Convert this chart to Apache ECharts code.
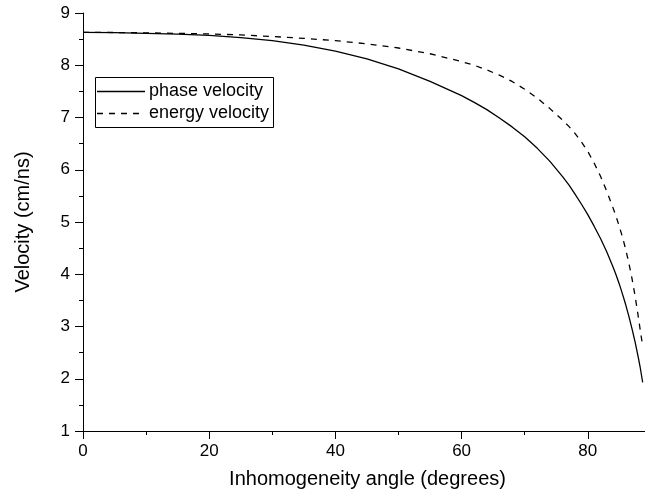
<!DOCTYPE html>
<html>
<head>
<meta charset="utf-8">
<style>html,body{margin:0;padding:0;background:#fff;overflow:hidden;width:645px;height:502px;}#c{width:717px;height:502px;}</style>
<script src="https://cdn.jsdelivr.net/npm/echarts@6/dist/echarts.min.js"></script>
</head>
<body>
<div id="c"></div>
<script>
var phaseAngles = [0, 5, 10, 15, 20, 25, 30, 35, 40, 45, 50, 55, 60, 62, 64, 66, 68, 70, 72, 74, 76, 77, 78, 79, 80, 81, 82, 83, 84, 84.5, 85, 85.5, 86, 86.5, 87, 87.5, 88, 88.3, 88.6, 88.7];
var phaseVelocity = [8.63, 8.625, 8.61, 8.595, 8.57, 8.53, 8.47, 8.385, 8.27, 8.12, 7.93, 7.69, 7.42, 7.29, 7.15, 6.99, 6.82, 6.63, 6.41, 6.16, 5.87, 5.71, 5.53, 5.34, 5.14, 4.92, 4.69, 4.43, 4.14, 3.98, 3.81, 3.62, 3.42, 3.20, 2.96, 2.70, 2.41, 2.22, 2.00, 1.93];
var energyAngles = [0, 5, 10, 15, 20, 25, 30, 35, 40, 45, 50, 55, 60, 62, 64, 66, 68, 70, 72, 74, 76, 77, 78, 79, 80, 81, 82, 83, 84, 84.5, 85, 85.5, 86, 86.5, 87, 87.5, 88, 88.3, 88.6, 88.7];
var energyVelocity = [8.63, 8.627, 8.62, 8.61, 8.60, 8.58, 8.55, 8.515, 8.47, 8.41, 8.33, 8.22, 8.07, 8.00, 7.91, 7.81, 7.69, 7.54, 7.37, 7.17, 6.95, 6.83, 6.69, 6.53, 6.35, 6.13, 5.88, 5.59, 5.27, 5.10, 4.91, 4.71, 4.48, 4.22, 3.92, 3.58, 3.19, 2.94, 2.70, 2.60];
var xTicks = [0, 20, 40, 60, 80];
var yTicks = [1, 2, 3, 4, 5, 6, 7, 8, 9];
var seriesNames = ['phase velocity', 'energy velocity'];

function pairs(xs, ys) { return xs.map(function (x, i) { return [x, ys[i]]; }); }

var chart = echarts.init(document.getElementById('c'), null, {renderer: 'canvas'});
var font = 'Liberation Sans, Arial, sans-serif';
chart.setOption({
  animation: false,
  backgroundColor: '#fff',
  grid: {left: 83, top: 13, bottom: 71, right: 0, containLabel: false},
  graphic: [
    {type: 'rect', left: 95, top: 77, shape: {width: 178, height: 50}, style: {fill: '#fff', stroke: '#000', lineWidth: 1}, z: 10},
    {type: 'line', shape: {x1: 97, y1: 91.5, x2: 145, y2: 91.5}, style: {stroke: '#000', lineWidth: 1.3}, z: 11},
    {type: 'line', shape: {x1: 97, y1: 113.5, x2: 145, y2: 113.5}, style: {stroke: '#000', lineWidth: 1.3, lineDash: [6, 6]}, z: 11},
    {type: 'text', x: 149, y: 91, style: {text: seriesNames[0], font: '18px ' + font, fill: '#000', textVerticalAlign: 'middle', verticalAlign: 'middle'}, z: 11},
    {type: 'text', x: 149, y: 113, style: {text: seriesNames[1], font: '18px ' + font, fill: '#000', textVerticalAlign: 'middle', verticalAlign: 'middle'}, z: 11}
  ],
  xAxis: {
    type: 'value', min: 0, max: 100, interval: 20,
    name: 'Inhomogeneity angle (degrees)', nameLocation: 'middle', nameGap: 38,
    nameTextStyle: {fontFamily: font, fontSize: 20, color: '#000', padding: [0, 62, 0, 0]},
    axisLine: {show: true, onZero: false, lineStyle: {color: '#000', width: 1}},
    axisTick: {show: true, inside: false, length: 8, lineStyle: {color: '#000'}},
    minorTick: {show: true, splitNumber: 2, length: 4, lineStyle: {color: '#000'}},
    axisLabel: {fontFamily: font, fontSize: 17, color: '#000', margin: 12,
      formatter: function (v) { return xTicks.indexOf(v) >= 0 ? String(v) : ''; }},
    splitLine: {show: false}
  },
  yAxis: {
    type: 'value', min: 1, max: 9, interval: 1,
    name: 'Velocity (cm/ns)', nameLocation: 'middle', nameGap: 50,
    nameTextStyle: {fontFamily: font, fontSize: 20, color: '#000'},
    axisLine: {show: true, onZero: false, lineStyle: {color: '#000', width: 1}},
    axisTick: {show: true, inside: false, length: 8, lineStyle: {color: '#000'}},
    minorTick: {show: true, splitNumber: 2, length: 4, lineStyle: {color: '#000'}},
    axisLabel: {fontFamily: font, fontSize: 17, color: '#000', margin: 13,
      formatter: function (v) { return yTicks.indexOf(v) >= 0 ? String(v) : ''; }},
    splitLine: {show: false}
  },
  series: [
    {
      name: seriesNames[0], type: 'line', data: pairs(phaseAngles, phaseVelocity),
      smooth: false, showSymbol: false, symbol: 'none',
      lineStyle: {color: '#000', width: 1.3, type: 'solid'}, itemStyle: {color: '#000'}
    },
    {
      name: seriesNames[1], type: 'line', data: pairs(energyAngles, energyVelocity),
      smooth: false, showSymbol: false, symbol: 'none',
      lineStyle: {color: '#000', width: 1.3, type: [6, 6]}, itemStyle: {color: '#000'}
    }
  ]
});
</script>
</body>
</html>
